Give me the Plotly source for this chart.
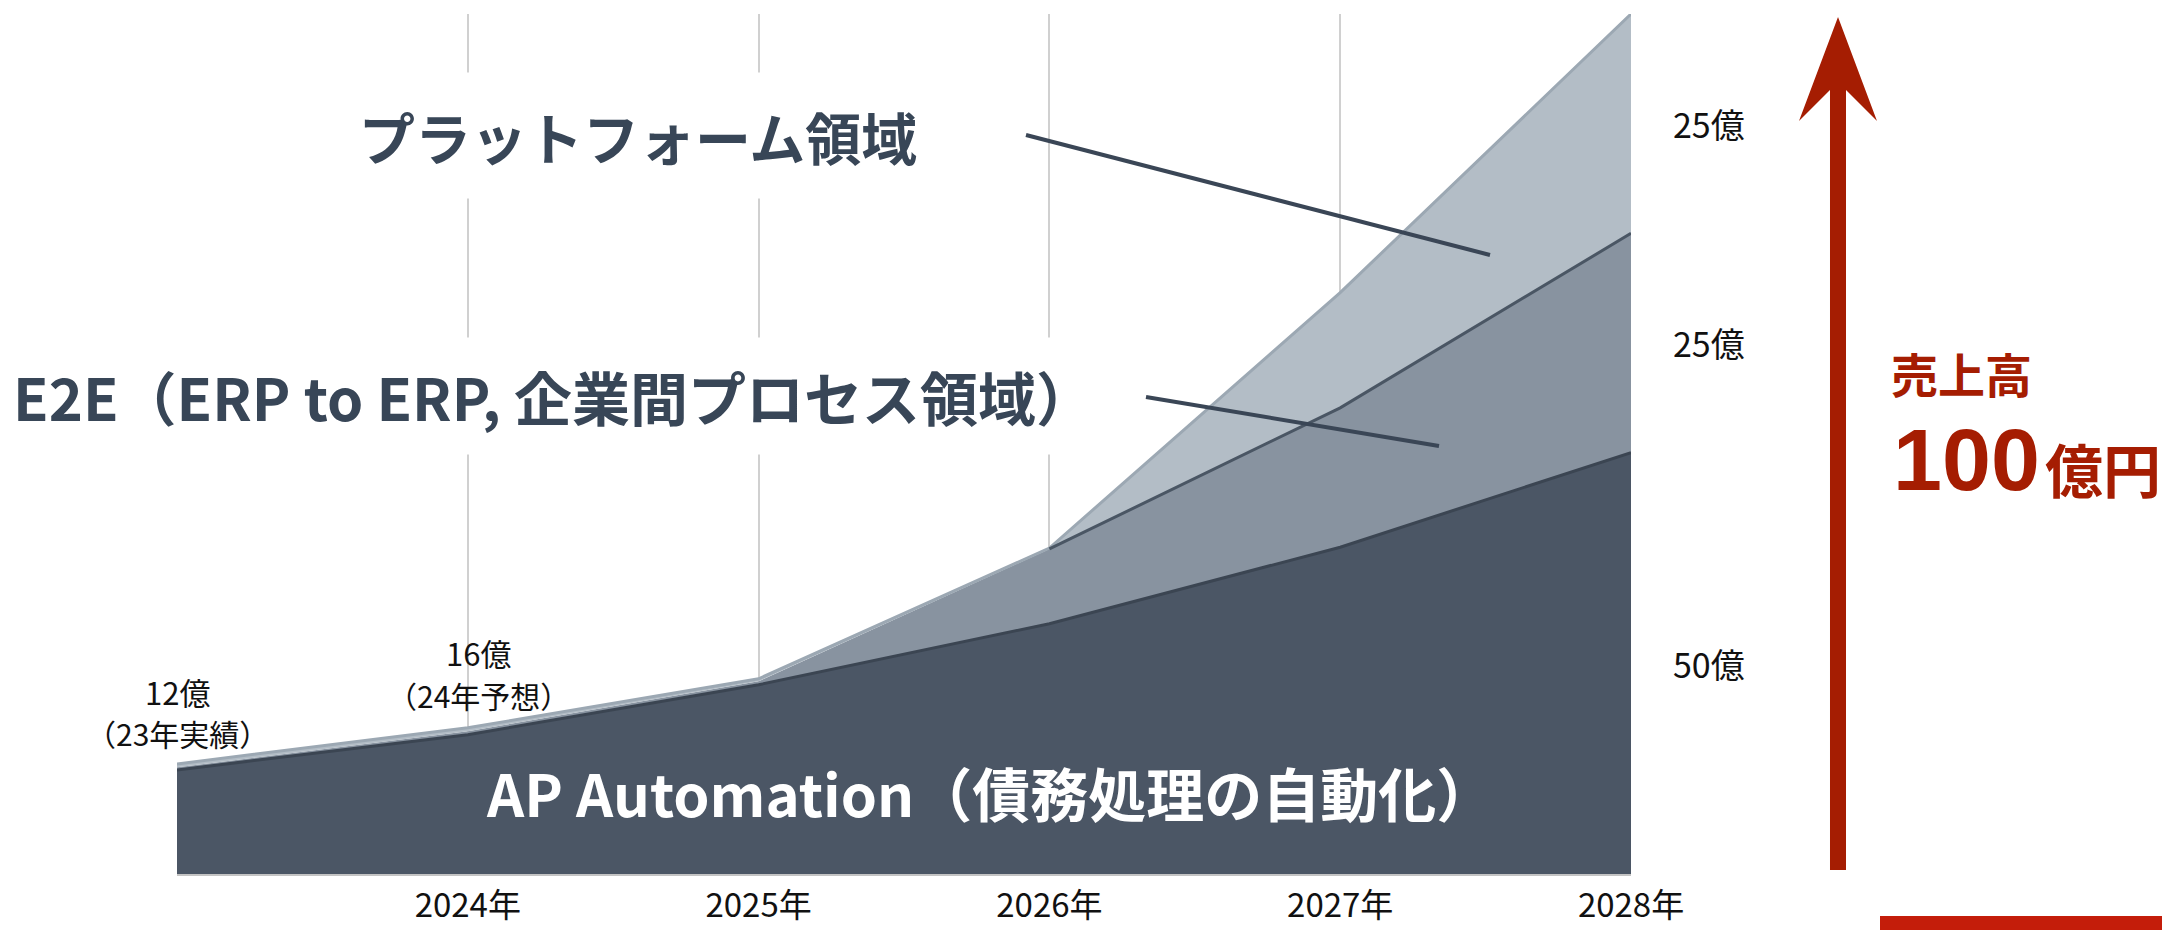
import numpy as np
import plotly.graph_objects as go

# ---------------- data ----------------
years = [2023, 2024, 2025, 2026, 2027, 2028]
ap_automation = [12.1, 16.2, 22.0, 29.1, 38.0, 49.0]
e2e_process = [0.3, 0.4, 0.4, 8.7, 16.2, 25.5]
platform = [0.4, 0.4, 0.3, 0.1, 13.4, 25.5]

tick_years = [2023, 2024, 2025, 2026, 2027, 2028]
tick_labels = ["", "2024年", "2025年", "2026年", "2027年", "2028年"]

segment_labels = ["50億", "25億", "25億"]  # AP, E2E, Platform at 2028
point_values = ["12億", "16億"]
point_notes = ["（23年実績）", "（24年予想）"]

name_ap = "AP Automation（債務処理の自動化）"
name_e2e = "E2E（ERP to ERP, 企業間プロセス領域）"
name_platform = "プラットフォーム領域"

# ---------------- layout constants (screen pixels) ----------------
OFF = 8                      # page body margin
SW, SH = 2170, 930           # screen size
W, H = SW - OFF, SH - OFF    # figure size
PL, PR, PT, PB = 177, 1631, 14, 874   # plot area on screen
L = PL - OFF
T = PT - OFF
R = W - (PR - OFF)
B = H - (PB - OFF)
PW = PR - PL
PH = PB - PT
FONT = "Noto Sans CJK JP"


def px(x):
    return (x - PL) / PW


def py(y):
    return (PB - y) / PH


ap = np.array(ap_automation)
e2e_top = ap + np.array(e2e_process)
total = e2e_top + np.array(platform)

fig = go.Figure()
fig.add_trace(go.Scatter(
    x=years, y=ap_automation, stackgroup="one", mode="lines",
    fillcolor="#4b5665", line=dict(color="#3b4552", width=3),
    name=name_ap, hoverinfo="skip"))
fig.add_trace(go.Scatter(
    x=years, y=e2e_process, stackgroup="one", mode="lines",
    fillcolor="#8893a0", line=dict(color="#8893a0", width=0),
    name=name_e2e, hoverinfo="skip"))
fig.add_trace(go.Scatter(
    x=years, y=platform, stackgroup="one", mode="lines",
    fillcolor="#b3bdc6", line=dict(color="#9ca8b3", width=3),
    name=name_platform, hoverinfo="skip"))
# dark boundary between E2E and platform where the platform layer opens up
mask = np.array(years) >= 2026
fig.add_trace(go.Scatter(
    x=np.array(years)[mask], y=e2e_top[mask], mode="lines",
    line=dict(color="#4a5664", width=3), hoverinfo="skip", showlegend=False))

annotations = []
# segment size labels on the right
mids = [ap[-1] / 2, (ap[-1] + e2e_top[-1]) / 2, (e2e_top[-1] + total[-1]) / 2]
for lab, m in zip(segment_labels, mids):
    annotations.append(dict(
        x=px(1709), xref="paper", y=m, yref="y", text=lab, showarrow=False,
        font=dict(family=FONT, size=34, color="#111111"), xanchor="center", yanchor="middle"))

# point labels (value line + note line)
for i, (xs, s_note, s_val) in enumerate([(0, 31, 72), (11, 33, 75)]):
    annotations.append(dict(
        x=years[i], y=total[i], text=point_notes[i], showarrow=False, yanchor="middle",
        xshift=xs, yshift=s_note, font=dict(family=FONT, size=30, color="#111111")))
    annotations.append(dict(
        x=years[i], y=total[i], text=point_values[i], showarrow=False, yanchor="middle",
        xshift=xs, yshift=s_val, font=dict(family=FONT, size=31, color="#111111")))

# series name labels
annotations.append(dict(
    x=px(638), xref="paper", y=py(135), yref="paper", text=name_platform, showarrow=False,
    font=dict(family=FONT, size=56, color="#384657", weight=700),
    bgcolor="#ffffff", borderpad=22, xanchor="center", yanchor="middle"))
annotations.append(dict(
    x=px(553), xref="paper", y=py(396), yref="paper", text=name_e2e, showarrow=False,
    font=dict(family=FONT, size=58, color="#384657", weight=700),
    bgcolor="#ffffff", borderpad=16, xanchor="center", yanchor="middle"))
annotations.append(dict(
    x=px(990), xref="paper", y=py(792), yref="paper", text=name_ap, showarrow=False,
    font=dict(family=FONT, size=58, color="#ffffff", weight=700),
    xanchor="center", yanchor="middle"))

# red total label
RED = "#a51d02"
annotations.append(dict(
    x=px(1889), xref="paper", y=py(372), yref="paper", text="売上高", showarrow=False,
    font=dict(family=FONT, size=47, color=RED, weight=700), xanchor="left", yanchor="middle"))
annotations.append(dict(
    x=px(1891), xref="paper", y=py(460), yref="paper", text="100", showarrow=False,
    font=dict(family="Liberation Sans", size=88, color=RED, weight=700),
    xanchor="left", yanchor="middle"))
annotations.append(dict(
    x=px(2043), xref="paper", y=py(468), yref="paper", text="億円", showarrow=False,
    font=dict(family=FONT, size=58, color=RED, weight=700), xanchor="left", yanchor="middle"))

shapes = []
# leader lines
shapes.append(dict(type="line", xref="paper", yref="paper",
                   x0=px(1026), y0=py(135), x1=px(1490), y1=py(255),
                   line=dict(color="#3a4656", width=4)))
shapes.append(dict(type="line", xref="paper", yref="paper",
                   x0=px(1146), y0=py(397), x1=px(1439), y1=py(446),
                   line=dict(color="#3a4656", width=4)))
# red arrow
pts = [(1838, 17), (1877, 121), (1846, 90), (1846, 870), (1830, 870), (1830, 90), (1799, 121)]
path = "M " + " L ".join(f"{px(a):.5f},{py(b):.5f}" for a, b in pts) + " Z"
shapes.append(dict(type="path", xref="paper", yref="paper", path=path,
                   fillcolor=RED, line=dict(width=0)))
# red bar bottom right
shapes.append(dict(type="rect", xref="paper", yref="paper",
                   x0=px(1880), x1=px(2180), y0=py(916), y1=py(940),
                   fillcolor="#c41d0a", line=dict(width=0)))

fig.update_layout(
    width=W, height=H,
    margin=dict(l=L, r=R, t=T, b=B, pad=0, autoexpand=False),
    paper_bgcolor="#ffffff", plot_bgcolor="#ffffff",
    showlegend=False,
    annotations=annotations, shapes=shapes,
    xaxis=dict(range=[2023, 2028], tickvals=tick_years, ticktext=tick_labels,
               showgrid=True, gridcolor="#d0d0d0", gridwidth=2,
               showline=True, linecolor="#c4c4c4", linewidth=2,
               ticks="", ticklabelstandoff=1, zeroline=False, automargin=False,
               tickfont=dict(family=FONT, size=33, color="#111111")),
    yaxis=dict(range=[0, 100], showgrid=False, showticklabels=False,
               zeroline=False, showline=False, ticks="", automargin=False),
)

fig.write_html("out.html")
